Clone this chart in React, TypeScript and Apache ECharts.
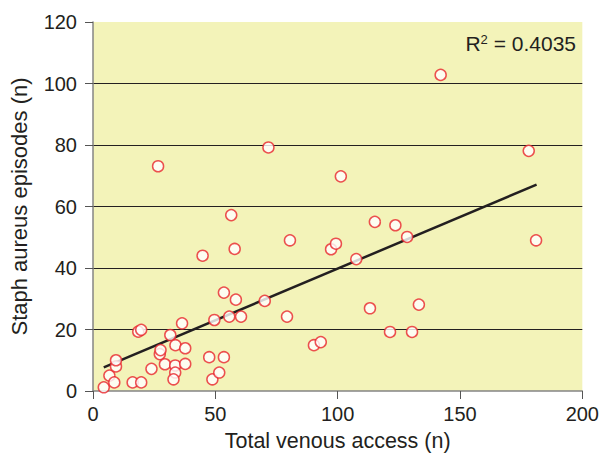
import React, { useEffect, useRef } from "react";
import * as echarts from "echarts";

const venousAccess = [
  4.4, 6.7, 8.7, 9.4, 9.4, 16.2, 19.7, 18.5, 19.7, 23.9, 26.6, 27.3, 27.6, 29.4,
  31.6, 33.7, 33.6, 33.6, 32.9, 36.4, 37.7, 37.7, 44.8, 47.5, 48.8, 49.6, 51.6,
  53.5, 53.5, 55.7, 56.5, 57.9, 58.4, 60.5, 70.2, 71.7, 79.3, 80.5, 90.3, 93.1,
  97.3, 99.3, 101.3, 107.6, 113.2, 115.2, 121.4, 123.6, 128.4, 130.4, 133.2,
  142.1, 178.1, 181.1,
];
const staphEpisodes = [
  1.2, 5.0, 2.8, 8.0, 10.0, 2.8, 2.8, 19.3, 19.9, 7.2, 73.1, 12.0, 13.3, 8.7,
  18.2, 14.9, 8.3, 6.0, 3.8, 22.0, 13.9, 8.8, 44.0, 11.0, 3.8, 23.1, 6.0, 11.0,
  32.0, 24.2, 57.2, 46.2, 29.7, 24.2, 29.3, 79.2, 24.2, 49.0, 14.9, 15.9, 46.1,
  47.9, 69.8, 42.9, 26.9, 55.0, 19.2, 53.9, 50.1, 19.2, 28.1, 102.8, 78.1, 49.0,
];
const trendX = [4.4, 181.3];
const trendY = [7.7, 67.1];
const xTicks = [0, 50, 100, 150, 200];
const yTicks = [0, 20, 40, 60, 80, 100, 120];
const rSquared = "0.4035";

export default function App() {
  const ref = useRef<HTMLDivElement>(null);
  useEffect(() => {
    if (!ref.current) return;
    const chart = echarts.init(ref.current, undefined, { renderer: "svg" });
    const font = "Liberation Sans, Arial, sans-serif";
    const txt = "#231f20";
    chart.setOption({
      animation: false,
      backgroundColor: "#ffffff",
      grid: {
        left: 92,
        right: 16,
        top: 22,
        bottom: 61,
        show: true,
        backgroundColor: "#f3f3b9",
        borderWidth: 0,
      },
      xAxis: {
        type: "value",
        min: xTicks[0],
        max: xTicks[xTicks.length - 1],
        interval: 50,
        name: "Total venous access (n)",
        nameLocation: "middle",
        nameGap: 39,
        nameTextStyle: { fontFamily: font, fontSize: 21.5, color: txt },
        axisLine: { show: true, lineStyle: { color: "#858585", width: 1.5 } },
        axisTick: { show: true, length: 8, lineStyle: { color: "#555", width: 1 } },
        axisLabel: { fontFamily: font, fontSize: 20, color: txt, margin: 13 },
        splitLine: { show: false },
      },
      yAxis: {
        type: "value",
        min: yTicks[0],
        max: yTicks[yTicks.length - 1],
        interval: 20,
        name: "Staph aureus episodes (n)",
        nameLocation: "middle",
        nameGap: 63,
        nameTextStyle: { fontFamily: font, fontSize: 22, color: txt },
        axisLine: { show: true, lineStyle: { color: "#858585", width: 1.5 } },
        axisTick: { show: true, length: 8, lineStyle: { color: "#555", width: 1 } },
        axisLabel: { fontFamily: font, fontSize: 20, color: txt, margin: 16 },
        splitLine: {
          show: true,
          showMinLine: false,
          showMaxLine: false,
          lineStyle: { color: txt, width: 1 },
        },
      },
      graphic: [
        {
          type: "text",
          right: 26,
          top: 33,
          style: {
            text: "{b|R}{s|2}{b| = " + rSquared + "}",
            rich: {
              b: { fontFamily: font, fontSize: 21, fill: txt, verticalAlign: "bottom" },
              s: { fontFamily: font, fontSize: 13, fill: txt, verticalAlign: "top", padding: [0, 0, 8, 0] },
            },
          },
        },
      ],
      series: [
        {
          type: "line",
          data: trendX.map((x, i) => [x, trendY[i]]),
          showSymbol: false,
          symbol: "none",
          lineStyle: { color: txt, width: 2.5 },
          z: 3,
          silent: true,
        },
        {
          type: "scatter",
          data: venousAccess.map((x, i) => [x, staphEpisodes[i]]),
          symbol: "circle",
          symbolSize: 11,
          itemStyle: { color: "#ffffff", borderColor: "#e8262c", borderWidth: 1.5 },
          z: 4,
        },
      ],
    });
    return () => chart.dispose();
  }, []);
  return (
    <div
      ref={ref}
      style={{ position: "fixed", left: 0, top: 0, width: 602, height: 457 }}
    />
  );
}
